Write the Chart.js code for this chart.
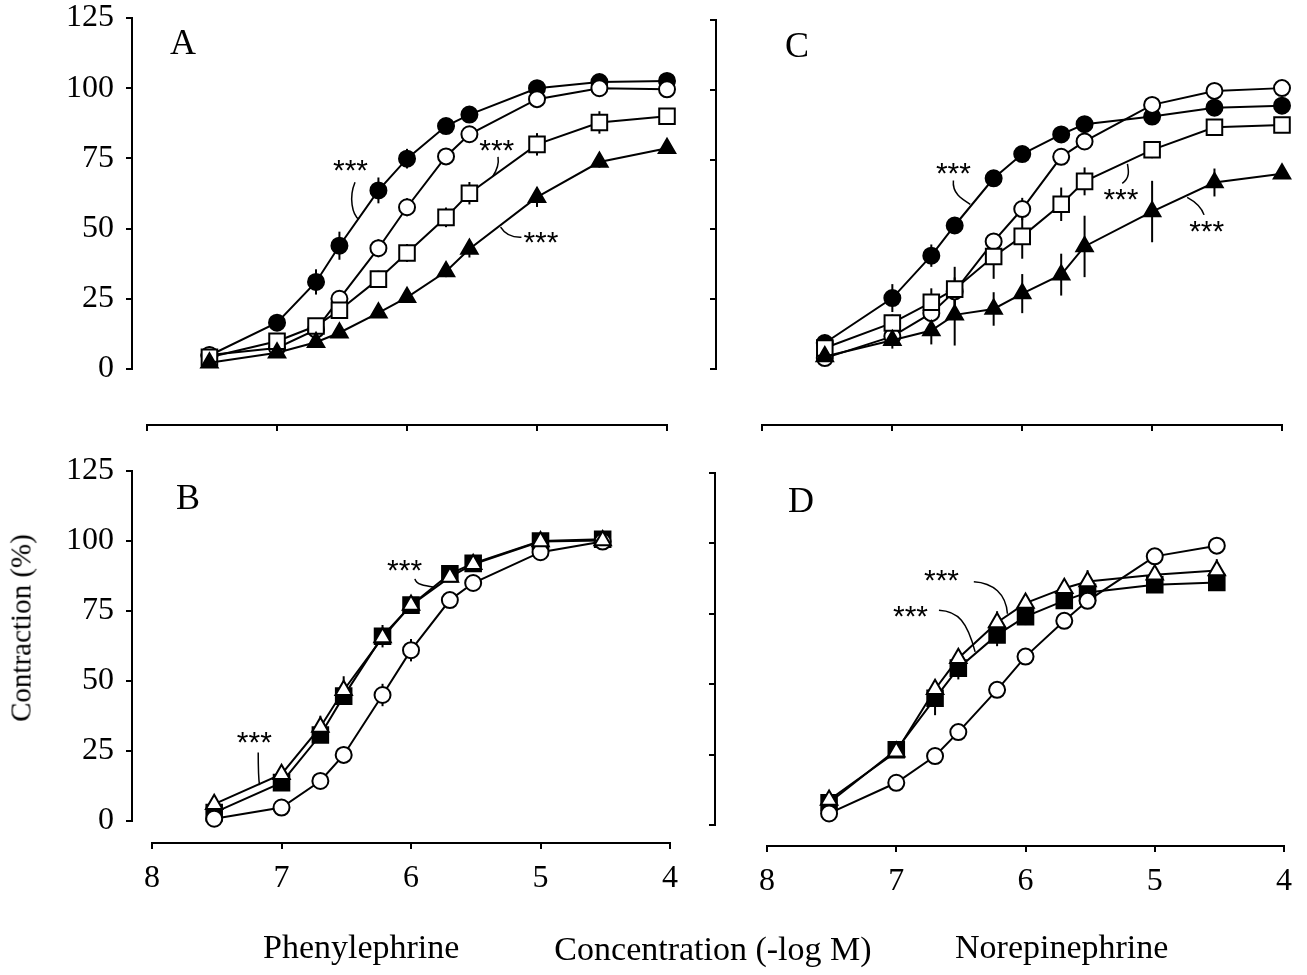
<!DOCTYPE html>
<html><head><meta charset="utf-8">
<script src="https://cdn.jsdelivr.net/npm/chart.js@4.4.1/dist/chart.umd.min.js"></script>
<style>
html,body{margin:0;padding:0;background:#fff;width:1307px;height:975px;overflow:hidden;}
.pane{position:absolute;}
.pane canvas{display:block;}
.lbl{position:absolute;font-family:'Liberation Serif','Times New Roman',serif;color:#000;line-height:1;white-space:nowrap;transform:translate(-50%,-50%);}
.lbl.l{transform:translate(0,-50%);}
</style></head><body>
<div class="pane" style="left:0;top:0"><canvas id="cA" width="690" height="445"></canvas></div>
<div class="pane" style="left:690px;top:0"><canvas id="cC" width="617" height="445"></canvas></div>
<div class="pane" style="left:0;top:445px"><canvas id="cB" width="690" height="530"></canvas></div>
<div class="pane" style="left:690px;top:445px"><canvas id="cD" width="617" height="530"></canvas></div>

<div class="lbl" style="left:183px;top:42px;font-size:36px">A</div>
<div class="lbl" style="left:797px;top:45px;font-size:36px">C</div>
<div class="lbl" style="left:188px;top:497px;font-size:36px">B</div>
<div class="lbl" style="left:801px;top:500px;font-size:36px">D</div>
<div class="lbl" style="left:21px;top:628px;font-size:29px;transform:translate(-50%,-50%) rotate(-90deg)">Contraction (%)</div>
<div class="lbl l" style="left:263px;top:947px;font-size:34px">Phenylephrine</div>
<div class="lbl" style="left:713px;top:949px;font-size:34px">Concentration (-log M)</div>
<div class="lbl l" style="left:955px;top:947px;font-size:34px">Norepinephrine</div>

<script>
// ---------- data (x = -log M, y = contraction %) ----------
const xPE = [7.52, 7, 6.7, 6.52, 6.22, 6, 5.7, 5.52, 5, 4.52, 4];
const xNE = [7.52, 7, 6.7, 6.52, 6.22, 6, 5.7, 5.52, 5, 4.52, 4];
const xPE2 = [7.52, 7, 6.7, 6.52, 6.22, 6, 5.7, 5.52, 5, 4.52];
const xNE2 = [7.52, 7, 6.7, 6.52, 6.22, 6, 5.7, 5.52, 5, 4.52];

const xTicks = [8, 7, 6, 5, 4];
const yTicks = [0, 25, 50, 75, 100, 125];

// Panel A (phenylephrine)
const aFilledCircle = [4.8, 16.5, 31, 43.9, 63.6, 74.9, 86.5, 90.6, 100, 102.2, 102.6];
const aFilledCircleErr = [0, 2, 4.5, 5, 4.6, 3.5, 1.5, 1, 1, 1, 0];
const aOpenCircle = [5, 7.5, 14, 25, 43, 57.6, 75.7, 83.6, 96.1, 100, 99.6];
const aOpenCircleErr = [0, 0, 0, 2, 3.2, 3.2, 1.5, 1, 1, 0, 0];
const aOpenSquare = [4.2, 9.9, 15.3, 20.9, 32, 41.3, 54, 62.6, 80, 87.8, 90];
const aOpenSquareErr = [0, 0, 0, 1, 3, 3.2, 3.5, 4, 4, 4, 0];
const aTriangle = [2.2, 5.8, 9.5, 12.9, 20, 25.5, 34.7, 42.7, 61.2, 73.7, 78.6];
const aTriangleErr = [0, 0, 0, 0, 1, 2, 2, 3, 3.5, 2, 0];

// Panel C (norepinephrine)
const cFilledCircle = [9.3, 25.4, 40.6, 51.4, 68.3, 77, 84, 87.7, 90.4, 93.6, 94.3];
const cFilledCircleErr = [3, 5, 4, 3, 1, 1, 1, 1, 1, 1, 0];
const cOpenCircle = [3.9, 11.7, 20, 27.8, 45.7, 57.3, 76, 81.5, 94.6, 99.6, 100.6];
const cOpenCircleErr = [0, 2, 3, 5, 2, 4, 3, 1, 1, 0, 0];
const cOpenSquare = [7.5, 16.5, 23.9, 28.6, 40.3, 47.5, 59, 67.2, 78.5, 86.6, 87.4];
const cOpenSquareErr = [0, 3, 5, 8, 8, 8, 6, 5, 3, 2, 0];
const cTriangle = [4.5, 10.3, 13.8, 19.4, 21.5, 27, 33.8, 43.9, 56.4, 66.8, 69.9];
const cTriangleErr = [0, 3, 5, 11, 6, 7, 7.5, 11, 11, 5, 0];

// Panel B (phenylephrine)
const bOpenCircle = [0.8, 4.8, 14.3, 23.6, 45, 61, 78.9, 85, 96, 99.8];
const bOpenCircleErr = [0, 0, 1, 3, 4, 4, 1, 1, 1, 0];
const bFilledSquare = [3, 13.7, 30.7, 44.6, 66, 77.1, 88.3, 92, 100, 100.6];
const bFilledSquareErr = [0, 2, 2, 3, 4, 3, 1, 1, 0, 0];
const bOpenTriangle = [6, 16.7, 33.6, 46.7, 65.5, 77.1, 87.1, 91.7, 99.8, 100.2];
const bOpenTriangleErr = [0, 1, 4, 5, 2, 2, 1, 1, 0, 0];

// Panel D (norepinephrine)
const dOpenCircle = [4.1, 15, 24.5, 33, 48, 59.8, 72.5, 79.6, 95.4, 99.2];
const dOpenCircleErr = [0, 0, 0, 0, 0, 0, 0, 0, 0, 0];
const dFilledSquare = [7.9, 26.7, 45, 55.7, 67.5, 74, 79.7, 82.6, 85.3, 86.1];
const dFilledSquareErr = [2, 2, 6, 4, 4, 3, 3, 2, 2, 1];
const dOpenTriangle = [8.9, 26, 48.2, 59.2, 71.9, 78.8, 84.1, 86.5, 88.9, 90.4];
const dOpenTriangleErr = [0, 0, 2, 3, 4, 3, 3, 4, 2, 4];

// significance labels with leader curves (data coordinates)
const annA = [
  {t:[6.435,72.2], c:[[6.40,66.5],[6.45,61],[6.42,55],[6.37,53.3]]},
  {t:[5.31,79.4], c:[[5.30,75.5],[5.29,72.5],[5.32,70],[5.34,68.7]]},
  {t:[4.97,46.4], c:[[5.12,46.9],[5.18,46.8],[5.24,47.5],[5.28,50.5]]}
];
const annC = [
  {t:[6.53,71.5], c:[[6.53,67.5],[6.54,63],[6.47,61],[6.40,59]]},
  {t:[5.24,62.3], c:[[5.23,66.5],[5.17,68.5],[5.18,71],[5.19,73.5]]},
  {t:[4.58,50.8], c:[[4.60,55.2],[4.62,58],[4.67,60],[4.73,61.5]]}
];
const annB = [
  {t:[7.21,29.6], c:[[7.18,24.5],[7.18,20],[7.18,16],[7.17,12.8]]},
  {t:[6.05,91.1], c:[[5.97,86.5],[5.96,84.5],[5.90,84],[5.82,83.5]]}
];
const annD = [
  {t:[6.65,88.2], c:[[6.40,86.4],[6.25,86],[6.15,82],[6.14,75]]},
  {t:[6.89,75.5], c:[[6.67,76.3],[6.52,76],[6.45,72],[6.39,61.5]]}
];

// ---------- drawing ----------
const SERIF = "'Liberation Serif','Times New Roman',serif";
const ST = {
  filledCircle: {style:'circle', radius:8, fill:'#000'},
  openCircle: {style:'circle', radius:8, fill:'#fff'},
  openSquare: {style:'rect', radius:11, fill:'#fff'},
  filledSquare: {style:'rect', radius:11, fill:'#000'},
  filledTriangle: {style:'triangle', radius:9.5, fill:'#000'},
  openTriangle: {style:'triangle', radius:9.5, fill:'#fff'}
};

const axisPlugin = {
  id: 'axes',
  afterDraw(chart) {
    const {ctx, chartArea, scales} = chart;
    const x = scales.x, y = scales.y;
    ctx.save();
    ctx.strokeStyle = '#000';
    ctx.lineWidth = 2;
    ctx.lineCap = 'square';
    ctx.beginPath();
    ctx.moveTo(chartArea.left - 1, y.getPixelForValue(0));
    ctx.lineTo(chartArea.left - 1, y.getPixelForValue(125));
    ctx.moveTo(x.getPixelForValue(8), chartArea.bottom + 1);
    ctx.lineTo(x.getPixelForValue(4), chartArea.bottom + 1);
    ctx.stroke();
    ctx.restore();
  }
};

const errPlugin = {
  id: 'errbars',
  beforeDatasetsDraw(chart) {
    const {ctx, scales} = chart;
    ctx.save();
    ctx.strokeStyle = '#000';
    ctx.lineWidth = 2;
    chart.data.datasets.forEach(ds => {
      (ds.data || []).forEach((p, i) => {
        const e = ds.errors ? ds.errors[i] : 0;
        if (!e) return;
        const px = scales.x.getPixelForValue(p.x);
        ctx.beginPath();
        ctx.moveTo(px, scales.y.getPixelForValue(p.y - e));
        ctx.lineTo(px, scales.y.getPixelForValue(p.y + e));
        ctx.stroke();
      });
    });
    ctx.restore();
  }
};

const STAR_FS = 30;
const annPlugin = {
  id: 'ann',
  afterDatasetsDraw(chart) {
    const list = chart.options.plugins.ann.items || [];
    const {ctx, scales} = chart;
    const P = (pt) => [scales.x.getPixelForValue(pt[0]), scales.y.getPixelForValue(pt[1])];
    ctx.save();
    ctx.strokeStyle = '#000';
    ctx.fillStyle = '#000';
    ctx.lineWidth = 1.5;
    ctx.font = STAR_FS + "px 'Liberation Sans', Arial, sans-serif";
    ctx.textAlign = 'center';
    ctx.textBaseline = 'alphabetic';
    list.forEach(a => {
      const t = P(a.t);
      ctx.fillText('***', t[0], t[1] + 0.46 * STAR_FS);
      const [p0, p1, p2, p3] = a.c.map(P);
      ctx.beginPath();
      ctx.moveTo(p0[0], p0[1]);
      ctx.bezierCurveTo(p1[0], p1[1], p2[0], p2[1], p3[0], p3[1]);
      ctx.stroke();
    });
    ctx.restore();
  }
};

function noPad(s) { s.paddingTop = 0; s.paddingBottom = 0; s.paddingLeft = 0; s.paddingRight = 0; }

function makeChart(id, cfg) {
  const setTicks = (vals) => (scale) => { scale.ticks = vals.map(v => ({value: v})); };
  const datasets = cfg.series.map(s => ({
    data: cfg.x.map((xv, i) => ({x: xv, y: s.values[i]})),
    errors: s.err,
    showLine: true,
    borderColor: '#000',
    borderWidth: 2,
    pointStyle: s.st.style,
    pointRadius: s.st.radius,
    pointBackgroundColor: s.st.fill,
    pointBorderColor: '#000',
    pointBorderWidth: 2,
    tension: 0,
    clip: false
  }));
  return new Chart(document.getElementById(id), {
    type: 'scatter',
    data: {datasets},
    options: {
      responsive: false,
      animation: false,
      events: [],
      devicePixelRatio: 1,
      layout: {autoPadding: false, padding: {top: cfg.padTop, right: cfg.padRight, left: 0, bottom: 0}},
      plugins: {legend: {display: false}, tooltip: {enabled: false}, ann: {items: cfg.ann}},
      scales: {
        x: {
          type: 'linear', reverse: true, min: 4, max: cfg.xMax,
          afterBuildTicks: setTicks(xTicks),
          afterFit: s => { s.height = cfg.xH; noPad(s); },
          grid: {drawOnChartArea: false, drawTicks: true, tickLength: 7, color: '#000', lineWidth: 2},
          border: {display: false},
          ticks: {display: cfg.xLabels, color: '#000', padding: 10, maxRotation: 0, autoSkip: false,
                  font: {family: SERIF, size: 32}}
        },
        y: {
          type: 'linear', min: cfg.yMin, max: 125,
          afterBuildTicks: setTicks(yTicks),
          afterFit: s => { s.width = cfg.yW; noPad(s); },
          grid: {drawOnChartArea: false, drawTicks: true, tickLength: 7, color: '#000', lineWidth: 2},
          border: {display: false},
          ticks: {display: cfg.yLabels, color: '#000', padding: 12, autoSkip: false,
                  font: {family: SERIF, size: 32}}
        }
      }
    },
    plugins: [axisPlugin, errPlugin, annPlugin]
  });
}

makeChart('cA', {
  x: xPE, xMax: 8.108, yMin: -19.6, yW: 133, xH: 21, padTop: 18, padRight: 23,
  xLabels: false, yLabels: true, ann: annA,
  series: [
    {values: aTriangle, err: aTriangleErr, st: ST.filledTriangle},
    {values: aOpenSquare, err: aOpenSquareErr, st: ST.openSquare},
    {values: aOpenCircle, err: aOpenCircleErr, st: ST.openCircle},
    {values: aFilledCircle, err: aFilledCircleErr, st: ST.filledCircle}
  ]
});
makeChart('cC', {
  x: xNE, xMax: 8.35, yMin: -19.7, yW: 27, xH: 21, padTop: 20, padRight: 25,
  xLabels: false, yLabels: false, ann: annC,
  series: [
    {values: cTriangle, err: cTriangleErr, st: ST.filledTriangle},
    {values: cOpenSquare, err: cOpenSquareErr, st: ST.openSquare},
    {values: cOpenCircle, err: cOpenCircleErr, st: ST.openCircle},
    {values: cFilledCircle, err: cFilledCircleErr, st: ST.filledCircle}
  ]
});
makeChart('cB', {
  x: xPE2, xMax: 8.147, yMin: -7.5, yW: 133, xH: 133, padTop: 26, padRight: 20,
  xLabels: true, yLabels: true, ann: annB,
  series: [
    {values: bOpenTriangle, err: bOpenTriangleErr, st: ST.openTriangle},
    {values: bOpenCircle, err: bOpenCircleErr, st: ST.openCircle},
    {values: bFilledSquare, err: bFilledSquareErr, st: ST.filledSquare}
  ]
});
makeChart('cD', {
  x: xNE2, xMax: 8.395, yMin: -7.1, yW: 26, xH: 130, padTop: 28, padRight: 23,
  xLabels: true, yLabels: false, ann: annD,
  series: [
    {values: dOpenTriangle, err: dOpenTriangleErr, st: ST.openTriangle},
    {values: dOpenCircle, err: dOpenCircleErr, st: ST.openCircle},
    {values: dFilledSquare, err: dFilledSquareErr, st: ST.filledSquare}
  ]
});
</script>
</body></html>
